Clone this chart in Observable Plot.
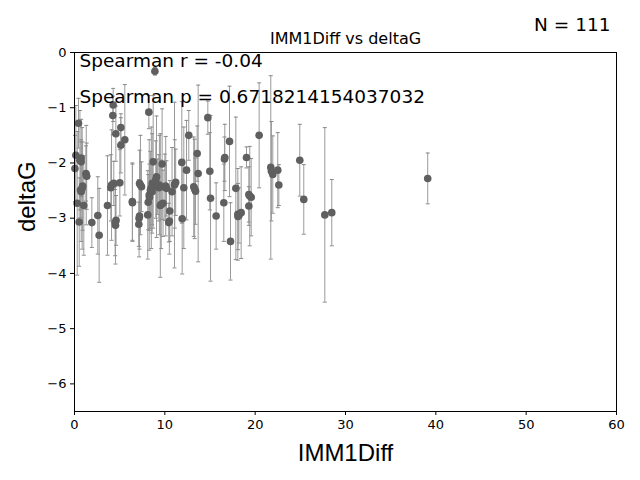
<!DOCTYPE html>
<html>
<head>
<meta charset="utf-8">
<script src="https://cdn.jsdelivr.net/npm/d3@7"></script>
<script src="https://cdn.jsdelivr.net/npm/@observablehq/plot@0.6"></script>
<style>
  body { margin: 0; background: #fff; }
  #chart svg { display: block; }
</style>
</head>
<body>
<div id="chart"></div>
<script>
// values (x, y, half-width of the error bar)
const imm1Diff = [
  0.44, 0.74, 0.74, 0.15, 1.27, 1.35, 0.85, 0.74, 0.66, 0.30,
  0.52, 1.03, 1.92, 2.58, 2.73, 3.65, 4.02, 4.35, 5.02, 4.60,
  4.54, 6.42, 7.20, 7.42, 7.20, 7.12, 8.60, 8.71, 8.27, 8.16,
  8.11, 9.08, 9.20, 8.90, 4.28, 4.24, 4.58, 5.13, 5.13, 5.57,
  8.23, 12.65, 14.76, 17.16, 16.64, 13.58, 11.88, 12.40, 13.69, 14.98,
  9.70, 9.34, 10.10, 10.18, 10.80, 11.07, 11.20, 13.20, 13.40, 9.50,
  9.80, 10.55, 10.44, 11.92, 15.06, 15.68, 16.53, 17.27, 17.86, 18.08,
  18.20, 18.45, 20.44, 19.04, 19.30, 19.56, 19.30, 21.73, 21.95, 22.50,
  22.62, 24.94, 25.38, 27.71, 28.48, 39.10, 8.40, 8.60, 0.05, 0.90,
  1.30, 4.10, 7.30, 8.30, 8.50, 9.00, 9.40, 9.60, 10.00, 10.50,
  11.10, 13.30, 18.10, 19.40, 21.80, 0.60, 4.50, 7.15, 16.60, 6.40,
  12.10
];
const deltaG = [
  -1.28, -1.91, -1.98, -1.86, -2.19, -2.24, -2.46, -2.52, -2.49, -2.73,
  -3.07, -2.77, -3.08, -2.95, -3.31, -2.77, -2.45, -2.37, -2.36, -3.04,
  -3.13, -2.72, -2.37, -2.43, -2.96, -3.11, -2.37, -1.98, -2.58, -2.71,
  -2.94, -2.25, -2.43, -0.34, -0.95, -1.14, -1.47, -1.36, -1.68, -1.58,
  -1.08, -1.50, -1.18, -1.61, -1.90, -1.83, -1.99, -2.13, -2.19, -2.15,
  -2.02, -2.45, -2.42, -2.46, -2.52, -2.40, -2.35, -2.43, -2.51, -2.77,
  -2.73, -2.87, -3.08, -3.01, -2.64, -2.96, -2.72, -3.42, -2.46, -2.93,
  -2.95, -2.90, -1.50, -1.90, -2.57, -2.62, -2.78, -2.08, -2.21, -2.13,
  -2.40, -1.95, -2.66, -2.94, -2.90, -2.28, -2.49, -2.52, -2.10, -2.42,
  -2.22, -2.40, -2.40, -2.62, -2.45, -2.30, -2.40, -2.75, -2.44, -3.05,
  -2.38, -2.47, -2.97, -2.60, -2.15, -1.95, -3.08, -3.00, -1.93, -2.70,
  -2.45
];
const deltaGErr = [
  0.45, 0.70, 0.40, 0.90, 0.50, 0.60, 1.10, 0.90, 0.50, 1.30,
  0.80, 0.90, 0.45, 0.70, 0.85, 0.90, 0.60, 0.40, 0.60, 0.45,
  0.70, 0.70, 0.60, 0.45, 0.60, 0.40, 0.90, 1.20, 1.00, 0.50,
  0.80, 1.10, 0.50, 0.07, 0.30, 0.35, 0.50, 0.25, 0.50, 1.00,
  0.30, 0.45, 0.30, 1.00, 0.60, 0.50, 1.10, 0.90, 1.60, 0.70,
  1.00, 0.60, 0.90, 0.50, 0.80, 1.50, 0.60, 0.90, 0.60, 1.30,
  0.60, 0.55, 0.35, 1.00, 1.50, 0.60, 0.70, 0.70, 1.29, 0.83,
  0.50, 0.83, 0.95, 0.19, 0.50, 0.70, 0.35, 1.66, 0.70, 0.68,
  0.37, 0.65, 0.63, 1.58, 0.60, 0.46, 0.70, 0.60, 0.60, 0.80,
  0.90, 1.00, 0.90, 0.60, 1.10, 0.70, 0.90, 0.80, 0.60, 0.60,
  0.80, 0.90, 0.60, 0.90, 0.90, 0.90, 0.60, 0.70, 0.40, 0.70,
  1.10
];
const xTicks = [0, 10, 20, 30, 40, 50, 60];
const yTicks = [0, -1, -2, -3, -4, -5, -6];
const titleText = "IMM1Diff vs deltaG";
const countText = "N = 111";
const statR = "Spearman r = -0.04";
const statP = "Spearman p = 0.6718214154037032";

const rows = imm1Diff.map((x, i) => ({
  x,
  y: deltaG[i],
  lo: deltaG[i] - deltaGErr[i],
  hi: deltaG[i] + deltaGErr[i]
}));

// flat horizontal cap for the error bars
const capSymbol = {
  draw(context, size) {
    const r = Math.sqrt(size / Math.PI);
    context.moveTo(-r, 0);
    context.lineTo(r, 0);
  }
};

// one-off text placed against the frame
const label = (s, opts) => Plot.text([s], { text: d => d, lineAnchor: "middle", fill: "#000", ...opts });

const chart = Plot.plot({
  width: 640,
  height: 480,
  marginLeft: 74,
  marginRight: 24,
  marginTop: 52,
  marginBottom: 69,
  style: { fontFamily: "DejaVu Sans", background: "#fff", overflow: "visible" },
  x: { domain: [0, 60], ticks: xTicks, label: null },
  y: { domain: [-6.5, 0], ticks: yTicks, label: null },
  marks: [
    Plot.ruleX(rows, { x: "x", y1: "lo", y2: "hi", stroke: "#9a9a9a", strokeWidth: 1 }),
    Plot.dot(rows, { x: "x", y: "lo", symbol: capSymbol, r: 2, stroke: "#8a8a8a", strokeWidth: 1 }),
    Plot.dot(rows, { x: "x", y: "hi", symbol: capSymbol, r: 2, stroke: "#8a8a8a", strokeWidth: 1 }),
    Plot.dot(rows, { x: "x", y: "y", r: 3.8, fill: "#5f5f5f", stroke: "none" }),
    Plot.frame({ stroke: "#000", strokeWidth: 1 }),
    Plot.axisX({ ticks: xTicks, tickSize: 4, tickPadding: 4, fontSize: 13, label: null, tickFormat: d => String(d) }),
    Plot.axisY({ ticks: yTicks, tickSize: 4, tickPadding: 4, fontSize: 13, label: null,
                 tickFormat: d => d < 0 ? "\u2212" + Math.abs(d) : String(d) }),
    label(statR, { frameAnchor: "top-left", textAnchor: "start", dx: 5, dy: 9, fontSize: 18.5 }),
    label(statP, { frameAnchor: "top-left", textAnchor: "start", dx: 5, dy: 45, fontSize: 18.5 }),
    label(titleText, { frameAnchor: "top", dy: -14, fontSize: 16 }),
    label(countText, { frameAnchor: "top-right", textAnchor: "end", dx: -6, dy: -27, fontSize: 18.5 }),
    label("IMM1Diff", { frameAnchor: "bottom", dy: 42, fontSize: 24, fontFamily: "Liberation Sans" }),
    label("deltaG", { frameAnchor: "left", dx: -47, rotate: -90, fontSize: 24, fontFamily: "Liberation Sans" })
  ]
});

document.getElementById("chart").append(chart);
</script>
</body>
</html>
